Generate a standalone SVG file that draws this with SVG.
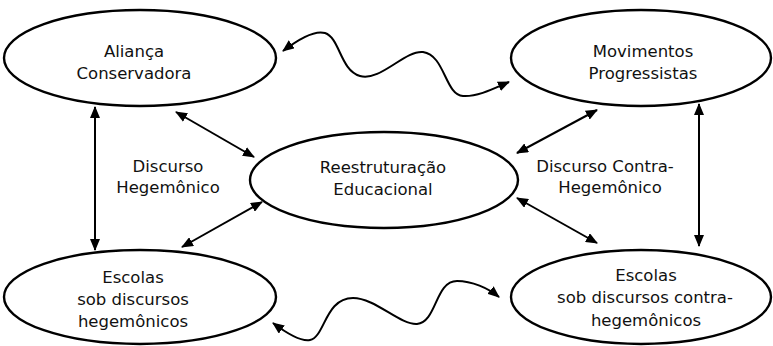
<svg xmlns="http://www.w3.org/2000/svg" width="773" height="346" viewBox="0 0 773 346">
<defs>
<marker id="ah" viewBox="0 0 12 10" refX="11" refY="5" markerWidth="12" markerHeight="10" markerUnits="userSpaceOnUse" orient="auto-start-reverse">
<path d="M0,0 L12,5 L0,10 z" fill="#000"/>
</marker>
<style>
.node ellipse{fill:#fff;stroke:#000;stroke-width:2.4}
text{font-family:"DejaVu Sans","Liberation Sans",sans-serif;font-size:16.5px;fill:#111;text-anchor:middle}
.conn path,.conn line{fill:none;stroke:#000;stroke-width:2;marker-start:url(#ah);marker-end:url(#ah)}
</style>
</defs>
<rect width="773" height="346" fill="#fff"/>
<g class="conn" id="connectors">
<line x1="95" y1="107" x2="95" y2="250"/>
<line x1="699" y1="104" x2="699" y2="246"/>
<line x1="176" y1="112" x2="254" y2="157"/>
<line x1="262" y1="202" x2="182" y2="247"/>
<line x1="517" y1="153" x2="597" y2="110"/>
<line x1="517" y1="198" x2="597" y2="243"/>
<path d="M283 51 C300 38,315 30,325 33 C340 38,340 70,360 76 C380 82,405 50,423 52 C445 55,445 95,463 96 C478 97,495 88,509 82"/>
<path d="M273 323 C285 332,300 342,310 340 C325 337,325 298,353 298 C375 298,400 325,417 324 C437 322,435 281,457 281 C472 281,488 288,499 297"/>
</g>
<g class="node" id="alianca">
<ellipse cx="140" cy="58" rx="136" ry="48"/>
<text x="134" y="57">Aliança</text>
<text x="134" y="79">Conservadora</text>
</g>
<g class="node" id="movimentos">
<ellipse cx="641" cy="58" rx="130" ry="48"/>
<text x="643" y="57">Movimentos</text>
<text x="643" y="79">Progressistas</text>
</g>
<g class="node" id="reestruturacao">
<ellipse cx="384" cy="180" rx="134" ry="48"/>
<text x="383" y="173">Reestruturação</text>
<text x="383" y="195">Educacional</text>
</g>
<g class="node" id="escolas-heg">
<ellipse cx="140" cy="297" rx="136" ry="47"/>
<text x="133" y="283">Escolas</text>
<text x="133" y="305">sob discursos</text>
<text x="133" y="327">hegemônicos</text>
</g>
<g class="node" id="escolas-contra">
<ellipse cx="641" cy="297" rx="130" ry="47"/>
<text x="646" y="281">Escolas</text>
<text x="645" y="303">sob discursos contra-</text>
<text x="646" y="326">hegemônicos</text>
</g>
<g id="label-left">
<text x="168" y="172">Discurso</text>
<text x="168" y="193">Hegemônico</text>
</g>
<g id="label-right">
<text x="605" y="172">Discurso Contra-</text>
<text x="610" y="193">Hegemônico</text>
</g>
</svg>
